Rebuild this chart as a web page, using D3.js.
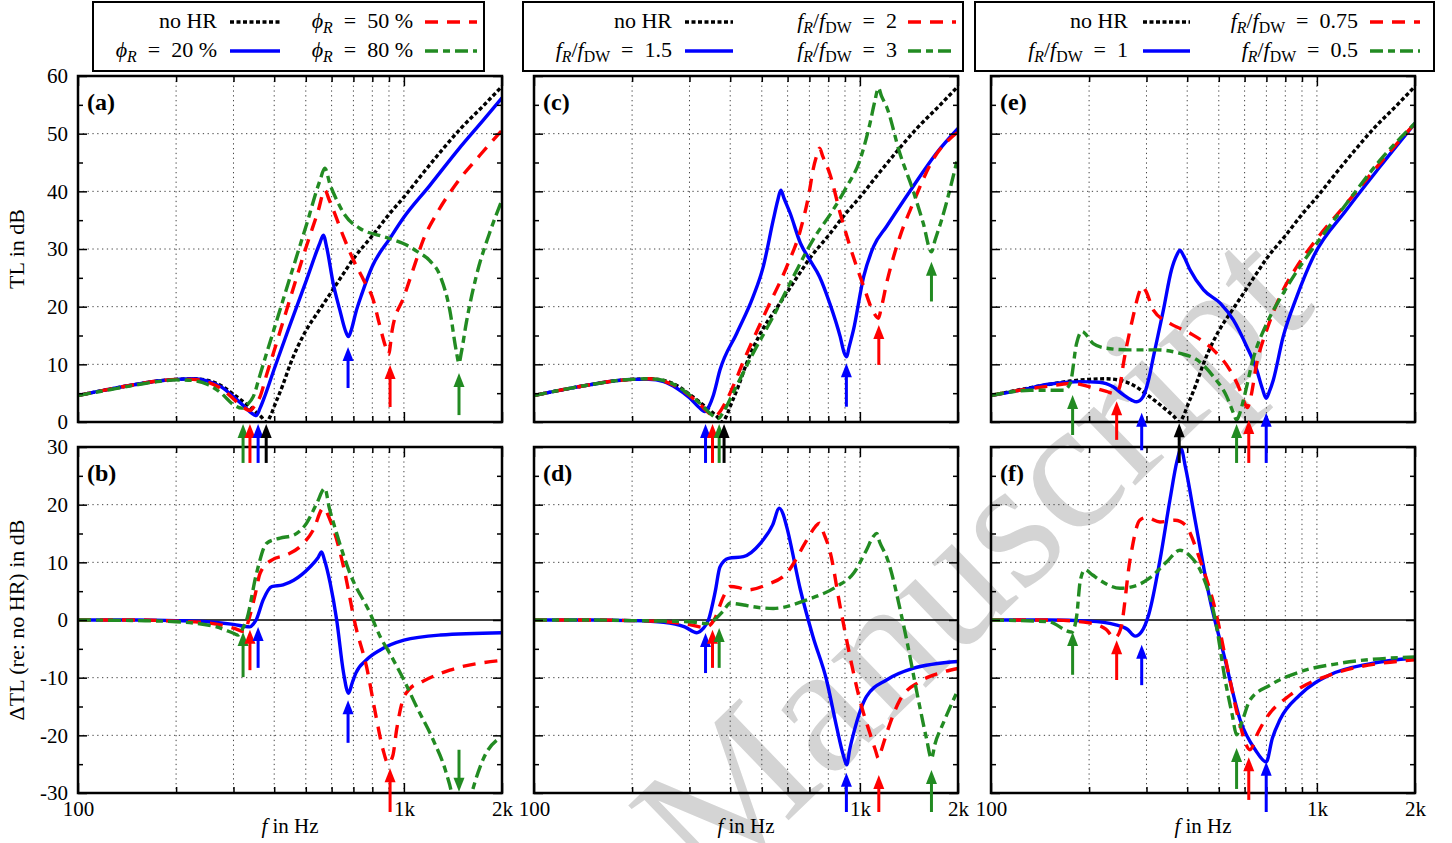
<!DOCTYPE html>
<html><head><meta charset="utf-8">
<script src="https://cdn.jsdelivr.net/npm/d3@7"></script>
<style>
body{margin:0;background:#fff}
svg{display:block}
</style>
</head><body>
<svg id="chart" width="1452" height="843" font-family="Liberation Serif, DejaVu Serif, serif"></svg>
<script>
// ---------------- DATA (frequency in Hz, value in dB) ----------------
const xMinorTicks = [200,300,400,500,600,700,800,900];
const xMajorTicks = [100,1000,2000];
const xTickLabels = ['100','1k','2k'];
const tlMajorTicks = [0,10,20,30,40,50,60];
const tlMinorTicks = [5,15,25,35,45,55];
const dtlMajorTicks = [-30,-20,-10,0,10,20,30];
const dtlMinorTicks = [-25,-15,-5,5,15,25];
const panelLetters = ['(a)','(b)','(c)','(d)','(e)','(f)'];

// reference without Helmholtz resonator (same in all three columns)
const tlNoHR = [[100,4.6],[125,5.7],[150,6.5],[175,7.1],[200,7.4],[225,7.5],[250,7.2],[275,6.3],[300,4.8],[325,3.3],[350,1.8],[365,0.9],[378,0],[390,1.1],[400,2.7],[425,6.4],[450,10.3],[500,15.8],[550,19.4],[600,22.6],[650,25.6],[700,28.3],[800,32.3],[900,36.0],[1000,39.0],[1150,43.3],[1320,47.4],[1500,51.0],[1750,54.8],[2000,58.2]];

// column 1: phi_R = 20 / 50 / 80 %
const tlPhi20 = [[100,4.6],[125,5.7],[150,6.5],[175,7.1],[200,7.4],[225,7.5],[250,7.1],[275,6.1],[300,4.4],[325,2.6],[340,1.6],[352,1.1],[362,2.4],[375,4.6],[400,9.2],[447,16.8],[503,24.7],[552,31.0],[566,32.4],[580,30.2],[607,24.0],[636,19.4],[660,16.0],[676,14.8],[690,16.0],[712,19.0],[744,22.3],[800,27.0],[905,31.8],[1000,35.5],[1200,41.0],[1466,47.2],[1750,52.3],[2000,56.2]];
const tlPhi50 = [[100,4.6],[125,5.7],[150,6.5],[175,7.1],[200,7.4],[225,7.4],[250,6.9],[275,5.8],[300,4.0],[320,2.6],[337,2.0],[350,3.0],[362,4.4],[379,8.2],[400,12.4],[447,21.3],[503,30.6],[545,36.5],[572,40.2],[590,38.5],[607,36.8],[653,32.1],[700,28.1],[753,24.6],[805,21.2],[840,17.1],[878,13.1],[897,11.7],[921,16.0],[1000,21.7],[1083,27.5],[1145,31.5],[1257,36.0],[1455,41.5],[1713,46.3],[2000,50.6]];
const tlPhi80 = [[100,4.6],[125,5.6],[150,6.4],[175,7.0],[200,7.3],[225,7.2],[250,6.5],[275,5.0],[300,3.0],[318,2.4],[330,3.0],[345,4.4],[362,8.2],[379,11.9],[400,16.2],[447,25.0],[503,34.3],[552,41.8],[572,44.0],[594,41.1],[622,38.5],[659,35.9],[731,33.6],[846,32.3],[905,31.8],[1019,30.7],[1103,29.5],[1200,28.0],[1295,25.2],[1383,19.4],[1446,12.5],[1476,10.2],[1500,12.0],[1553,17.1],[1666,25.2],[1830,32.7],[2000,38.5]];
const dtlPhi20 = [[100,0],[150,0],[200,-0.1],[250,-0.3],[300,-0.75],[337,-1.2],[345,-0.7],[352,0],[370,3.5],[393,5.8],[426,6.1],[459,6.9],[515,9.2],[545,10.8],[559,11.8],[570,10.5],[594,6.4],[622,0],[653,-9.2],[676,-12.7],[695,-10.8],[712,-9.2],[768,-6.9],[846,-5.2],[1000,-3.5],[1295,-2.6],[2000,-2.2]];
const dtlPhi50 = [[100,0],[150,0],[200,-0.2],[250,-0.5],[300,-1.4],[325,-2.0],[334,0],[350,4.5],[362,8.1],[393,10.4],[437,11.3],[480,12.7],[527,15.6],[566,19.4],[594,17.3],[653,9.2],[712,-1.2],[768,-8.1],[825,-17.3],[863,-22.5],[895,-24.9],[925,-23.5],[950,-19.0],[985,-14.5],[1040,-12.0],[1145,-10.6],[1383,-8.7],[2000,-7.0]];
const dtlPhi80 = [[100,0],[150,-0.1],[200,-0.3],[266,-1.2],[300,-2.3],[310,-2.6],[320,-1.5],[329,0],[353,8.1],[379,13.3],[417,14.2],[458,14.7],[503,16.8],[540,20.2],[572,22.8],[590,19.5],[622,15.0],[683,8.1],[787,1.2],[846,-2.9],[905,-5.8],[1000,-10.4],[1093,-15.0],[1230,-20.8],[1350,-26.6],[1400,-30.0],[1476,-40.0],[1616,-30.0],[1746,-24.3],[2000,-20.2]];

// column 2: f_R/f_DW = 1.5 / 2 / 3
const tlRatio15 = [[100,4.6],[125,5.7],[150,6.5],[175,7.1],[200,7.4],[225,7.4],[250,7.0],[275,5.8],[300,4.2],[320,2.6],[334,1.8],[345,2.8],[355,4.6],[372,9.0],[419,15.4],[470,21.7],[505,26.9],[542,35.0],[560,38.5],[572,40.2],[585,38.8],[611,36.2],[657,31.0],[702,28.1],[752,25.2],[808,20.6],[870,14.8],[895,12.0],[911,11.3],[925,12.8],[956,16.0],[1027,25.2],[1101,30.4],[1207,33.9],[1455,40.8],[1717,46.6],[2000,50.9]];
const tlRatio2 = [[100,4.6],[125,5.7],[150,6.5],[175,7.1],[200,7.4],[225,7.5],[250,7.1],[275,6.1],[300,4.6],[325,2.9],[345,1.5],[359,0.9],[370,1.6],[390,3.8],[450,11.9],[517,19.4],[596,26.9],[657,33.3],[700,40.0],[718,43.7],[740,46.5],[752,47.5],[770,46.0],[808,43.1],[870,36.2],[933,30.4],[1027,23.5],[1101,19.0],[1140,18.0],[1160,19.5],[1207,24.0],[1326,32.1],[1455,37.9],[1672,45.4],[2000,50.3]];
const tlRatio3 = [[100,4.6],[125,5.7],[150,6.5],[175,7.1],[200,7.4],[225,7.5],[250,7.2],[275,6.2],[300,4.7],[325,3.1],[350,1.3],[368,0.6],[380,1.6],[408,5.0],[470,11.9],[542,18.3],[625,25.2],[718,31.6],[828,36.8],[911,40.8],[1000,45.4],[1074,51.8],[1110,55.5],[1140,57.9],[1165,56.5],[1207,54.7],[1326,46.6],[1455,40.2],[1564,34.5],[1658,29.5],[1700,31.5],[1780,35.0],[2000,46.0]];
const dtlRatio15 = [[100,0],[150,0],[200,-0.1],[250,-0.4],[290,-1.2],[316,-2.2],[330,-1.5],[343,0],[360,5.0],[372,9.2],[395,10.7],[439,11.0],[495,13.3],[540,16.5],[566,19.4],[580,18.5],[596,16.2],[657,5.2],[718,-2.9],[790,-10.4],[848,-18.5],[890,-23.5],[911,-25.1],[930,-22.5],[956,-19.7],[1047,-13.3],[1207,-10.4],[1455,-8.4],[2000,-7.2]];
const dtlRatio2 = [[100,0],[150,0],[200,-0.1],[250,-0.3],[300,-0.8],[334,-1.3],[357,0],[381,4.0],[400,5.8],[425,5.6],[450,5.2],[517,6.1],[596,8.1],[688,13.9],[730,16.2],[752,16.8],[775,15.0],[808,12.1],[870,2.3],[933,-6.4],[1000,-13.9],[1074,-19.7],[1115,-22.5],[1140,-24.0],[1165,-22.5],[1207,-19.7],[1326,-13.9],[1526,-10.7],[1759,-9.2],[2000,-8.4]];
const dtlRatio3 = [[100,0],[150,0],[200,-0.1],[250,-0.2],[300,-0.3],[338,-0.6],[357,0],[380,1.5],[400,2.9],[440,2.6],[470,2.3],[542,2.0],[688,3.5],[848,5.8],[956,8.1],[1047,12.1],[1100,14.5],[1126,15.0],[1150,13.5],[1207,11.0],[1358,-0.6],[1526,-15.0],[1600,-20.5],[1658,-24.0],[1700,-21.5],[1802,-17.9],[2000,-12.1]];

// column 3: f_R/f_DW = 1 / 0.75 / 0.5
const tlRatio1 = [[100,4.6],[125,5.6],[148,6.5],[188,7.0],[215,6.9],[237,6.1],[255,4.7],[270,3.8],[280,3.5],[293,4.4],[305,7.5],[315,11.3],[338,19.4],[358,26.4],[372,29.0],[380,29.8],[390,28.8],[408,26.4],[449,22.9],[505,20.6],[554,17.7],[609,13.1],[654,9.0],[680,5.8],[699,4.1],[715,5.3],[735,7.3],[788,14.8],[867,21.7],[976,28.7],[1233,36.8],[1563,44.3],[2000,51.8]];
const tlRatio075 = [[100,4.6],[125,5.6],[150,6.2],[179,6.7],[201,6.1],[226,5.3],[240,4.9],[248,6.0],[255,10.2],[273,18.3],[285,22.5],[290,23.5],[298,22.8],[315,19.4],[354,17.1],[408,15.4],[481,12.5],[541,9.0],[581,5.5],[600,3.3],[612,2.5],[625,4.0],[654,10.2],[702,16.0],[770,21.7],[867,26.9],[976,31.0],[1233,37.9],[1563,44.9],[2000,51.8]];
const tlRatio05 = [[100,4.6],[132,5.5],[167,5.5],[175,6.7],[183,13.6],[190,15.7],[206,13.6],[226,12.8],[267,12.5],[323,12.5],[380,11.9],[428,10.8],[481,7.9],[529,4.4],[555,1.5],[567,0.35],[580,1.5],[595,3.8],[640,11.3],[702,17.1],[788,22.3],[886,26.9],[999,31.0],[1233,37.9],[1563,45.4],[2000,51.8]];
const dtlRatio1 = [[100,0],[150,0],[200,-0.2],[240,-0.8],[262,-1.6],[277,-2.8],[290,-2.0],[305,1.0],[330,10.4],[354,20.8],[372,27.5],[383,29.7],[395,26.5],[423,17.3],[470,3.5],[523,-6.9],[581,-17.3],[647,-22.5],[699,-24.6],[730,-20.5],[770,-17.3],[886,-13.0],[1099,-9.5],[1452,-7.6],[2000,-6.6]];
const dtlRatio075 = [[100,0],[150,0],[200,-0.5],[225,-1.6],[240,-3.1],[250,-1.5],[267,10.4],[286,17.3],[300,17.8],[330,17.0],[367,17.3],[394,16.5],[438,10.4],[488,1.7],[541,-10.4],[581,-18.2],[623,-22.5],[660,-19.5],[694,-17.3],[828,-13.0],[1099,-9.5],[2000,-6.9]];
const dtlRatio05 = [[100,0],[150,-0.3],[177,-2.1],[183,0.5],[188,6.9],[194,8.7],[205,7.8],[216,6.9],[249,5.5],[280,6.0],[307,7.3],[345,10.0],[380,12.1],[410,11.0],[438,8.7],[488,0],[523,-10.4],[550,-16.5],[567,-19.9],[590,-17.5],[623,-13.9],[718,-11.3],[886,-9.0],[1178,-7.5],[2000,-6.4]];

// resonance arrows: [frequency, tail value, tip value, series]
const arrowsA = [[321,-7.1,-0.35,'s3'],[337,-7.1,-0.35,'s2'],[357,-7.1,-0.35,'s1'],[378,-7.1,-0.35,'ref'],[674,5.9,13.0,'s1'],[907,2.6,9.9,'s2'],[1476,1.2,8.5,'s3']];
const arrowsB = [[321,-9.9,-2.1,'s3'],[337,-8.7,-1.7,'s2'],[357,-8.3,-1.2,'s1'],[674,-21.3,-13.9,'s1'],[907,-33.3,-25.7,'s2'],[1476,-22.5,-29.8,'s3']];
const arrowsC = [[336,-7.1,-0.35,'s1'],[353,-7.1,-0.35,'s2'],[370,-7.1,-0.35,'s3'],[383,-7.1,-0.35,'ref'],[909,2.65,10.2,'s1'],[1143,9.9,16.8,'s2'],[1658,20.9,27.8,'s3']];
const arrowsD = [[336,-9.2,-2.25,'s1'],[353,-8.3,-1.7,'s2'],[370,-8.3,-1.4,'s3'],[909,-33.3,-26.5,'s1'],[1143,-33.3,-26.9,'s2'],[1658,-33.3,-26.0,'s3']];
const arrowsE = [[178,-2.25,4.7,'s3'],[243,-3.1,3.6,'s2'],[290,-4.9,1.6,'s1'],[378,-7.1,-0.2,'ref'],[567,-7.1,-0.35,'s3'],[618,-7.1,0.35,'s2'],[699,-7.1,1.6,'s1']];
const arrowsF = [[178,-9.5,-2.1,'s3'],[243,-10.4,-3.5,'s2'],[290,-11.3,-4.3,'s1'],[567,-29.3,-22.2,'s3'],[618,-31.2,-23.8,'s2'],[699,-33.3,-24.6,'s1']];

const phiValues = ['20 %','50 %','80 %'];
const ratioValuesC = ['1.5','2','3'];
const ratioValuesE = ['1','0.75','0.5'];

// ---------------- STYLE ----------------
const SERIF = 'Liberation Serif';
const styles = {
  ref:{color:'#000000', dash:'4,2.5', width:3.4},
  s1:{color:'#0000ff', dash:null, width:3.4},
  s2:{color:'#ff0000', dash:'13,9', width:3.4},
  s3:{color:'#228b22', dash:'13,5,7,5', width:3.4}
};

const svg = d3.select('#chart');
const plotLefts = [78, 534, 991];
const plotW = 424;
const FONT = 21;

// watermark
svg.append('text').text('Manuscript')
  .attr('transform','translate(709,897) rotate(-44)')
  .attr('font-size',186).attr('fill','#d4d4d4');

const columns = [
  {top:{ref:tlNoHR,s1:tlPhi20,s2:tlPhi50,s3:tlPhi80}, bot:{s1:dtlPhi20,s2:dtlPhi50,s3:dtlPhi80}, arT:arrowsA, arB:arrowsB},
  {top:{ref:tlNoHR,s1:tlRatio15,s2:tlRatio2,s3:tlRatio3}, bot:{s1:dtlRatio15,s2:dtlRatio2,s3:dtlRatio3}, arT:arrowsC, arB:arrowsD},
  {top:{ref:tlNoHR,s1:tlRatio1,s2:tlRatio075,s3:tlRatio05}, bot:{s1:dtlRatio1,s2:dtlRatio075,s3:dtlRatio05}, arT:arrowsE, arB:arrowsF}
];

function styleAxis(sel){
  sel.select('.domain').remove();
  sel.attr('font-family',SERIF).attr('font-size',FONT);
  sel.selectAll('line').attr('stroke','#000').attr('stroke-width',1.5);
  sel.selectAll('text').attr('fill','#000');
}

function drawPanel(col,row){
  const cfg = columns[col];
  const L = plotLefts[col];
  const x = d3.scaleLog().domain([100,2000]).range([L, L+plotW]);
  const y = row===0 ? d3.scaleLinear().domain([0,60]).range([422,76])
                    : d3.scaleLinear().domain([-30,30]).range([793,447]);
  const yb = y.range()[0], yt = y.range()[1];
  const g = svg.append('g');
  const cid = 'clip'+col+'_'+row;
  svg.append('clipPath').attr('id',cid).append('rect')
     .attr('x',L).attr('y',yt).attr('width',plotW).attr('height',yb-yt);

  // grid
  g.selectAll('.vg').data(xMinorTicks.concat([1000])).enter().append('line')
    .attr('x1',d=>x(d)).attr('x2',d=>x(d)).attr('y1',yt).attr('y2',yb)
    .attr('stroke','#444').attr('stroke-width',1).attr('stroke-dasharray','1.3,3.5');
  const yGrid = row===0 ? [10,20,30,40,50] : [-20,-10,10,20];
  g.selectAll('.hg').data(yGrid).enter().append('line')
    .attr('x1',L).attr('x2',L+plotW).attr('y1',d=>y(d)).attr('y2',d=>y(d))
    .attr('stroke','#444').attr('stroke-width',1).attr('stroke-dasharray','1.3,3.5');
  if(row===1){
    g.append('line').attr('x1',L).attr('x2',L+plotW).attr('y1',y(0)).attr('y2',y(0))
     .attr('stroke','#000').attr('stroke-width',1.5);
  }

  // curves
  const line = d3.line().x(d=>x(d[0])).y(d=>y(d[1])).curve(d3.curveMonotoneX);
  const data = row===0 ? cfg.top : cfg.bot;
  ['ref','s1','s2','s3'].forEach(k=>{
    if(!data[k]) return;
    const st = styles[k];
    g.append('path').attr('d',line(data[k])).attr('clip-path',`url(#${cid})`)
      .attr('fill','none').attr('stroke',st.color).attr('stroke-width',st.width)
      .attr('stroke-dasharray',st.dash).attr('stroke-linejoin','round');
  });

  // axes (ticks inward, mirrored)
  const yMaj = row===0 ? tlMajorTicks : dtlMajorTicks;
  const yMin = row===0 ? tlMinorTicks : dtlMinorTicks;
  g.append('g').attr('transform',`translate(0,${yb})`)
    .call(d3.axisBottom(x).tickValues(xMajorTicks).tickSize(-10).tickPadding(8)
      .tickFormat((d,i)=> row===1 ? xTickLabels[i] : '')).call(styleAxis);
  g.append('g').attr('transform',`translate(0,${yb})`)
    .call(d3.axisBottom(x).tickValues(xMinorTicks).tickSize(-6).tickFormat('')).call(styleAxis);
  g.append('g').attr('transform',`translate(0,${yt})`)
    .call(d3.axisTop(x).tickValues(xMajorTicks).tickSize(-10).tickFormat('')).call(styleAxis);
  g.append('g').attr('transform',`translate(0,${yt})`)
    .call(d3.axisTop(x).tickValues(xMinorTicks).tickSize(-6).tickFormat('')).call(styleAxis);
  g.append('g').attr('transform',`translate(${L},0)`)
    .call(d3.axisLeft(y).tickValues(yMaj).tickSize(-9).tickPadding(10)
      .tickFormat(d=> col===0 ? String(d) : '')).call(styleAxis);
  g.append('g').attr('transform',`translate(${L},0)`)
    .call(d3.axisLeft(y).tickValues(yMin).tickSize(-5).tickFormat('')).call(styleAxis);
  g.append('g').attr('transform',`translate(${L+plotW},0)`)
    .call(d3.axisRight(y).tickValues(yMaj).tickSize(-9).tickFormat('')).call(styleAxis);
  g.append('g').attr('transform',`translate(${L+plotW},0)`)
    .call(d3.axisRight(y).tickValues(yMin).tickSize(-5).tickFormat('')).call(styleAxis);

  // frame
  g.append('rect').attr('x',L).attr('y',yt).attr('width',plotW).attr('height',yb-yt)
    .attr('fill','none').attr('stroke','#000').attr('stroke-width',2.5);

  // panel letter
  g.append('text').text(panelLetters[col*2+row]).attr('x',L+9).attr('y',yt+34)
    .attr('font-size',24).attr('font-weight','bold');

  if(row===1){
    const t = g.append('text').attr('x',L+plotW/2).attr('y',833).attr('text-anchor','middle').attr('font-size',FONT);
    t.append('tspan').text('f').attr('font-style','italic');
    t.append('tspan').text(' in Hz');
  }
  return {x,y};
}

function drawArrows(sc, list){
  const ag = svg.append('g');
  list.forEach(([f,from,to,k])=>{
    const c = styles[k].color;
    const xp = sc.x(f), ya = sc.y(from), yb = sc.y(to);
    const dir = yb < ya ? -1 : 1; // -1 = pointing up
    const head = 14, hw = 5.5;
    ag.append('line').attr('x1',xp).attr('x2',xp).attr('y1',ya).attr('y2',yb - dir*head*0.8)
      .attr('stroke',c).attr('stroke-width',3);
    ag.append('path').attr('d',`M${xp},${yb} L${xp-hw},${yb-dir*head} L${xp+hw},${yb-dir*head} Z`).attr('fill',c);
  });
}

const scales = [];
for(let c=0;c<3;c++){
  scales.push([drawPanel(c,0), drawPanel(c,1)]);
}
for(let c=0;c<3;c++){
  drawArrows(scales[c][0], columns[c].arT);
  drawArrows(scales[c][1], columns[c].arB);
}

// y axis titles
svg.append('text').text('TL in dB').attr('transform','translate(24,249) rotate(-90)')
  .attr('text-anchor','middle').attr('font-size',FONT+1);
svg.append('text').text('ΔTL (re: no HR) in dB').attr('transform','translate(24,620) rotate(-90)')
  .attr('text-anchor','middle').attr('font-size',FONT+1);

// ---------------- LEGENDS ----------------
function richText(sel, segs){
  segs.forEach(([txt,kind])=>{
    const ts = sel.append('tspan').text(txt);
    if(kind==='i') ts.attr('font-style','italic');
    if(kind==='si'||kind==='su'){
      ts.attr('font-size',(FONT+1)*0.72).attr('dy',5);
      if(kind==='si') ts.attr('font-style','italic');
    }
    if(kind==='n_after') ts.attr('dy',-5);
  });
}
function phiLabel(v){ return [['ϕ','i'],['R','si'],['\u2002=\u2002'+v,'n_after']]; }
function ratioLabel(v){ return [['f','i'],['R','si'],['/','n_after'],['f','i'],['DW','su'],['\u2002=\u2002'+v,'n_after']]; }

const legends = [
  {box:[93,484], ea:217, la:[230,280], eb:413, lb:[425,477],
   labels:[[['no HR','n']], phiLabel(phiValues[0]), phiLabel(phiValues[1]), phiLabel(phiValues[2])]},
  {box:[523,963], ea:672, la:[685,733], eb:897, lb:[908,956],
   labels:[[['no HR','n']], ratioLabel(ratioValuesC[0]), ratioLabel(ratioValuesC[1]), ratioLabel(ratioValuesC[2])]},
  {box:[975,1434], ea:1128, la:[1143,1190], eb:1358, lb:[1370,1420],
   labels:[[['no HR','n']], ratioLabel(ratioValuesE[0]), ratioLabel(ratioValuesE[1]), ratioLabel(ratioValuesE[2])]}
];
const keys = ['ref','s1','s2','s3'];
legends.forEach(lg=>{
  const g = svg.append('g');
  g.append('rect').attr('x',lg.box[0]).attr('y',2).attr('width',lg.box[1]-lg.box[0]).attr('height',69)
    .attr('fill','#fff').attr('stroke','#000').attr('stroke-width',2);
  const slots = [[0,'A',0],[1,'A',1],[2,'B',0],[3,'B',1]];
  slots.forEach(([i,colAB,r])=>{
    const base = r===0 ? 28 : 57;
    const ly = r===0 ? 22 : 51;
    const end = colAB==='A' ? lg.ea : lg.eb;
    const ln = colAB==='A' ? lg.la : lg.lb;
    const t = g.append('text').attr('x',end).attr('y',base).attr('text-anchor','end').attr('font-size',FONT+1);
    richText(t, lg.labels[i]);
    const st = styles[keys[i]];
    g.append('line').attr('x1',ln[0]).attr('x2',ln[1]).attr('y1',ly).attr('y2',ly)
      .attr('stroke',st.color).attr('stroke-width',st.width).attr('stroke-dasharray',st.dash);
  });
});

// make sure every text uses the serif family
svg.selectAll('text').attr('font-family',SERIF).attr('fill', function(){ return this.getAttribute('fill') || '#000'; });
</script>
</body></html>
